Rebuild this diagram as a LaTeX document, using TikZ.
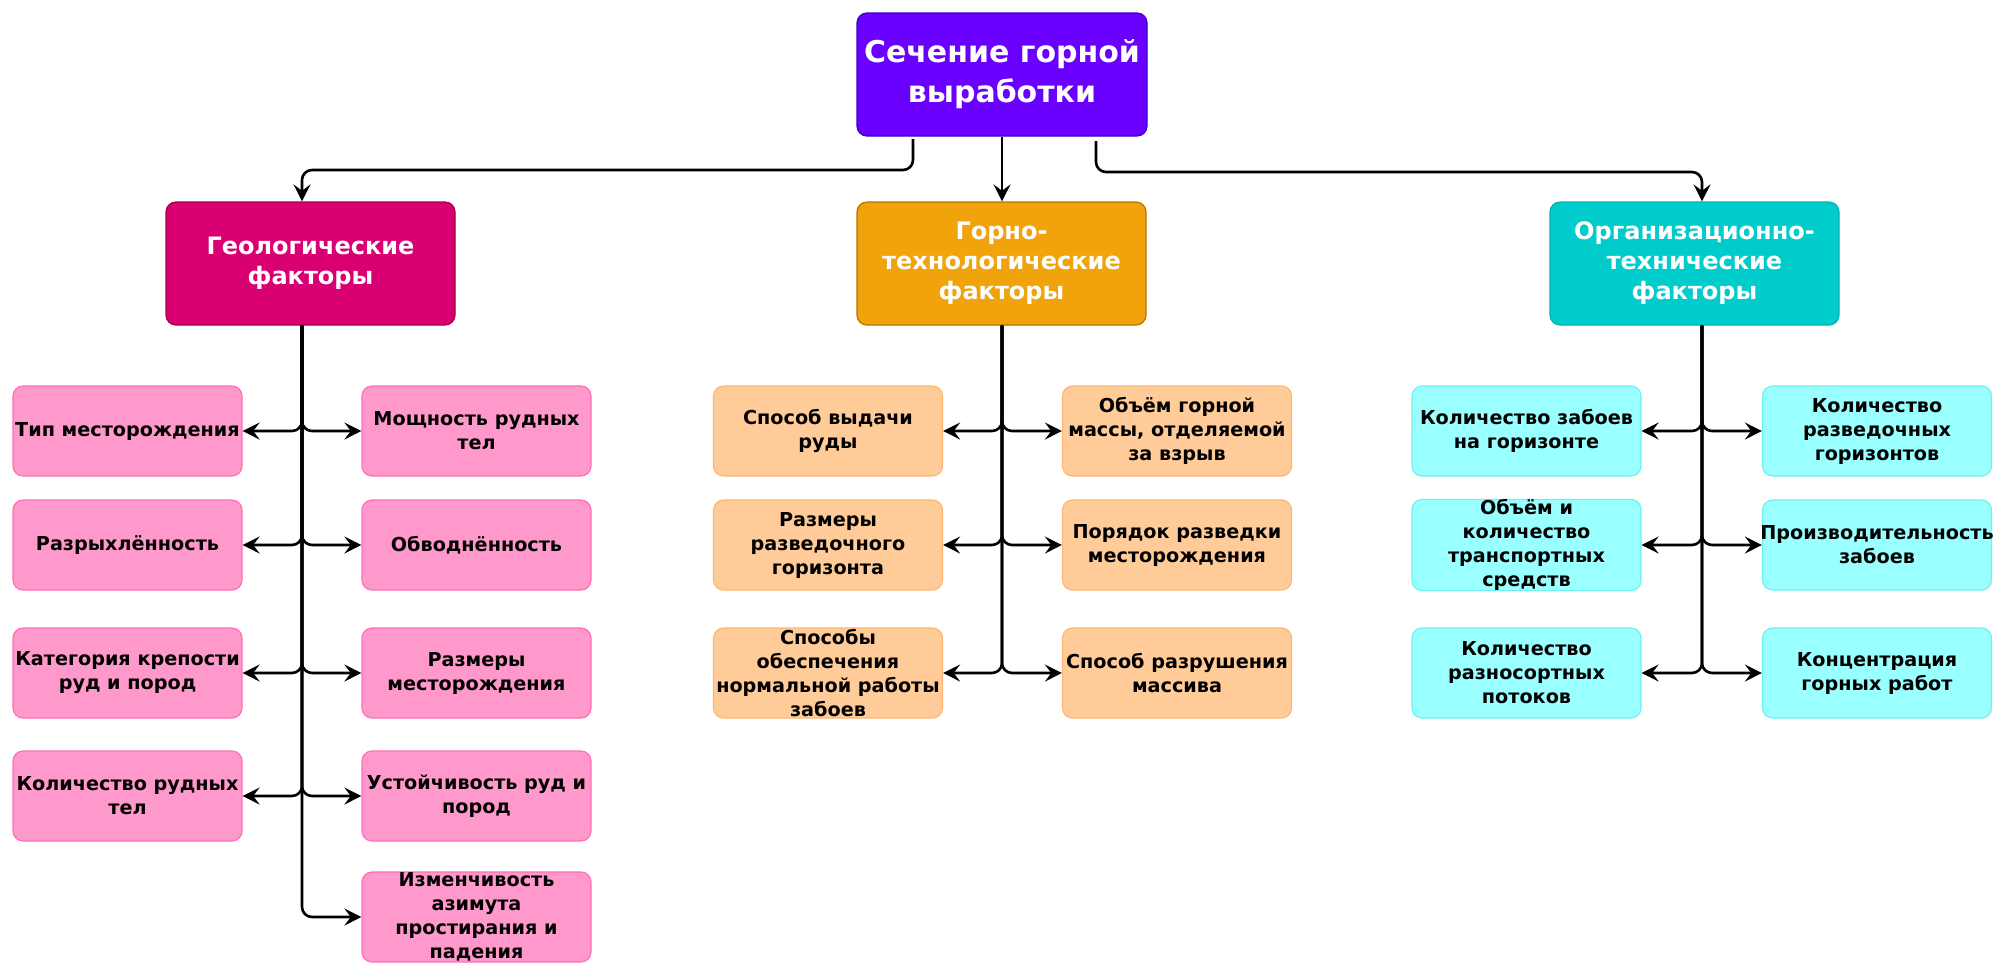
\documentclass[tikz,border=0pt]{standalone}
\usepackage{fontspec}
\setmainfont{DejaVu Sans}
\usetikzlibrary{arrows.meta}
\definecolor{topfill}{HTML}{6A00FF}
\definecolor{topline}{HTML}{3700CC}
\definecolor{geofill}{HTML}{D80073}
\definecolor{geoline}{HTML}{A50040}
\definecolor{gorfill}{HTML}{F0A30A}
\definecolor{gorline}{HTML}{BD7000}
\definecolor{orgfill}{HTML}{00CCCC}
\definecolor{orgline}{HTML}{00B3B3}
\definecolor{pinkfill}{HTML}{FF99CC}
\definecolor{pinkline}{HTML}{FF6FB7}
\definecolor{peachfill}{HTML}{FFCC99}
\definecolor{peachline}{HTML}{FFB570}
\definecolor{cyanfill}{HTML}{99FFFF}
\definecolor{cyanline}{HTML}{70F0F0}
\begin{document}
\begin{tikzpicture}[x=0.5pt,y=-0.5pt,
  box/.style={draw, rounded corners=5pt, line width=0.6pt, inner sep=0pt, align=center},
  topbox/.style={box, fill=topfill, draw=topline, text=white, minimum width=145pt, minimum height=61.5pt,
    font=\fontsize{15}{20}\selectfont\bfseries},
  headbox/.style={box, text=white, minimum width=144.5pt, minimum height=61.5pt,
    font=\fontsize{12}{15}\selectfont\bfseries},
  childbox/.style={box, text=black, minimum width=114.5pt, minimum height=45pt,
    font=\fontsize{9.6}{12}\selectfont\bfseries},
  pink/.style={childbox, fill=pinkfill, draw=pinkline},
  peach/.style={childbox, fill=peachfill, draw=peachline},
  cyanb/.style={childbox, fill=cyanfill, draw=cyanline},
  conn/.style={line width=1.3pt, rounded corners=5pt, -{Stealth[length=8.5pt,width=8.5pt,inset=3.2pt]}}
]
\useasboundingbox (0,0) rectangle (1998,966);

% top and headers
\node[topbox] (top) at (1002,74.5) {Сечение горной\\выработки};
\node[headbox, fill=geofill, draw=geoline] (geo) at (310.5,263.5) {Геологические\\факторы};
\node[headbox, fill=gorfill, draw=gorline] (gor) at (1001.5,263.5) {Горно-\\технологические\\факторы};
\node[headbox, fill=orgfill, draw=orgline] (org) at (1694.5,263.5) {Организационно-\\технические\\факторы};

% connector reference points
\coordinate (tl) at (913,139);
\coordinate (tr) at (1096,141);
\coordinate (gx) at (302,0);
\coordinate (mx) at (1002,0);
\coordinate (ox) at (1702,0);

\draw[conn] (tl) -- (913,170) -| (geo.north -| gx);
\draw[conn] (top.south -| mx) -- (gor.north -| mx);
\draw[conn] (tr) -- (1096,172) -| (org.north -| ox);

% geological children
\node[pink] (g1) at (127.5,431) {Тип месторождения};
\node[pink] (g2) at (127.5,545) {Разрыхлённость};
\node[pink] (g3) at (127.5,673) {\makebox[110pt][c]{Категория крепости}\\руд и пород};
\node[pink] (g4) at (127.5,796) {Количество рудных\\тел};
\node[pink] (g5) at (476.5,431) {Мощность рудных\\тел};
\node[pink] (g6) at (476.5,545) {Обводнённость};
\node[pink] (g7) at (476.5,673) {Размеры\\месторождения};
\node[pink] (g8) at (476.5,796) {Устойчивость руд и\\пород};
\node[pink] (g9) at (476.5,917) {Изменчивость\\азимута\\простирания и\\падения};

% mining-technological children
\node[peach] (m1) at (828,431) {Способ выдачи\\руды};
\node[peach] (m2) at (828,545) {Размеры\\разведочного\\горизонта};
\node[peach] (m3) at (828,673) {Способы\\обеспечения\\\makebox[110pt][c]{нормальной работы}\\забоев};
\node[peach] (m4) at (1177,431) {Объём горной\\массы, отделяемой\\за взрыв};
\node[peach] (m5) at (1177,545) {Порядок разведки\\месторождения};
\node[peach] (m6) at (1177,673) {\makebox[110pt][c]{Способ разрушения}\\массива};

% organisational-technical children
\node[cyanb] (o1) at (1526.5,431) {Количество забоев\\на горизонте};
\node[cyanb] (o2) at (1526.5,545) {Объём и\\количество\\транспортных\\средств};
\node[cyanb] (o3) at (1526.5,673) {Количество\\разносортных\\потоков};
\node[cyanb] (o4) at (1877,431) {Количество\\разведочных\\горизонтов};
\node[cyanb] (o5) at (1877,545) {\makebox[110pt][c]{Производительность}\\забоев};
\node[cyanb] (o6) at (1877,673) {Концентрация\\горных работ};

% branches
\foreach \c in {g1,g2,g3,g4,g5,g6,g7,g8,g9}
  \draw[conn] (geo.south -| gx) |- (\c);
\foreach \c in {m1,m2,m3,m4,m5,m6}
  \draw[conn] (gor.south -| mx) |- (\c);
\foreach \c in {o1,o2,o3,o4,o5,o6}
  \draw[conn] (org.south -| ox) |- (\c);
\end{tikzpicture}
\end{document}
